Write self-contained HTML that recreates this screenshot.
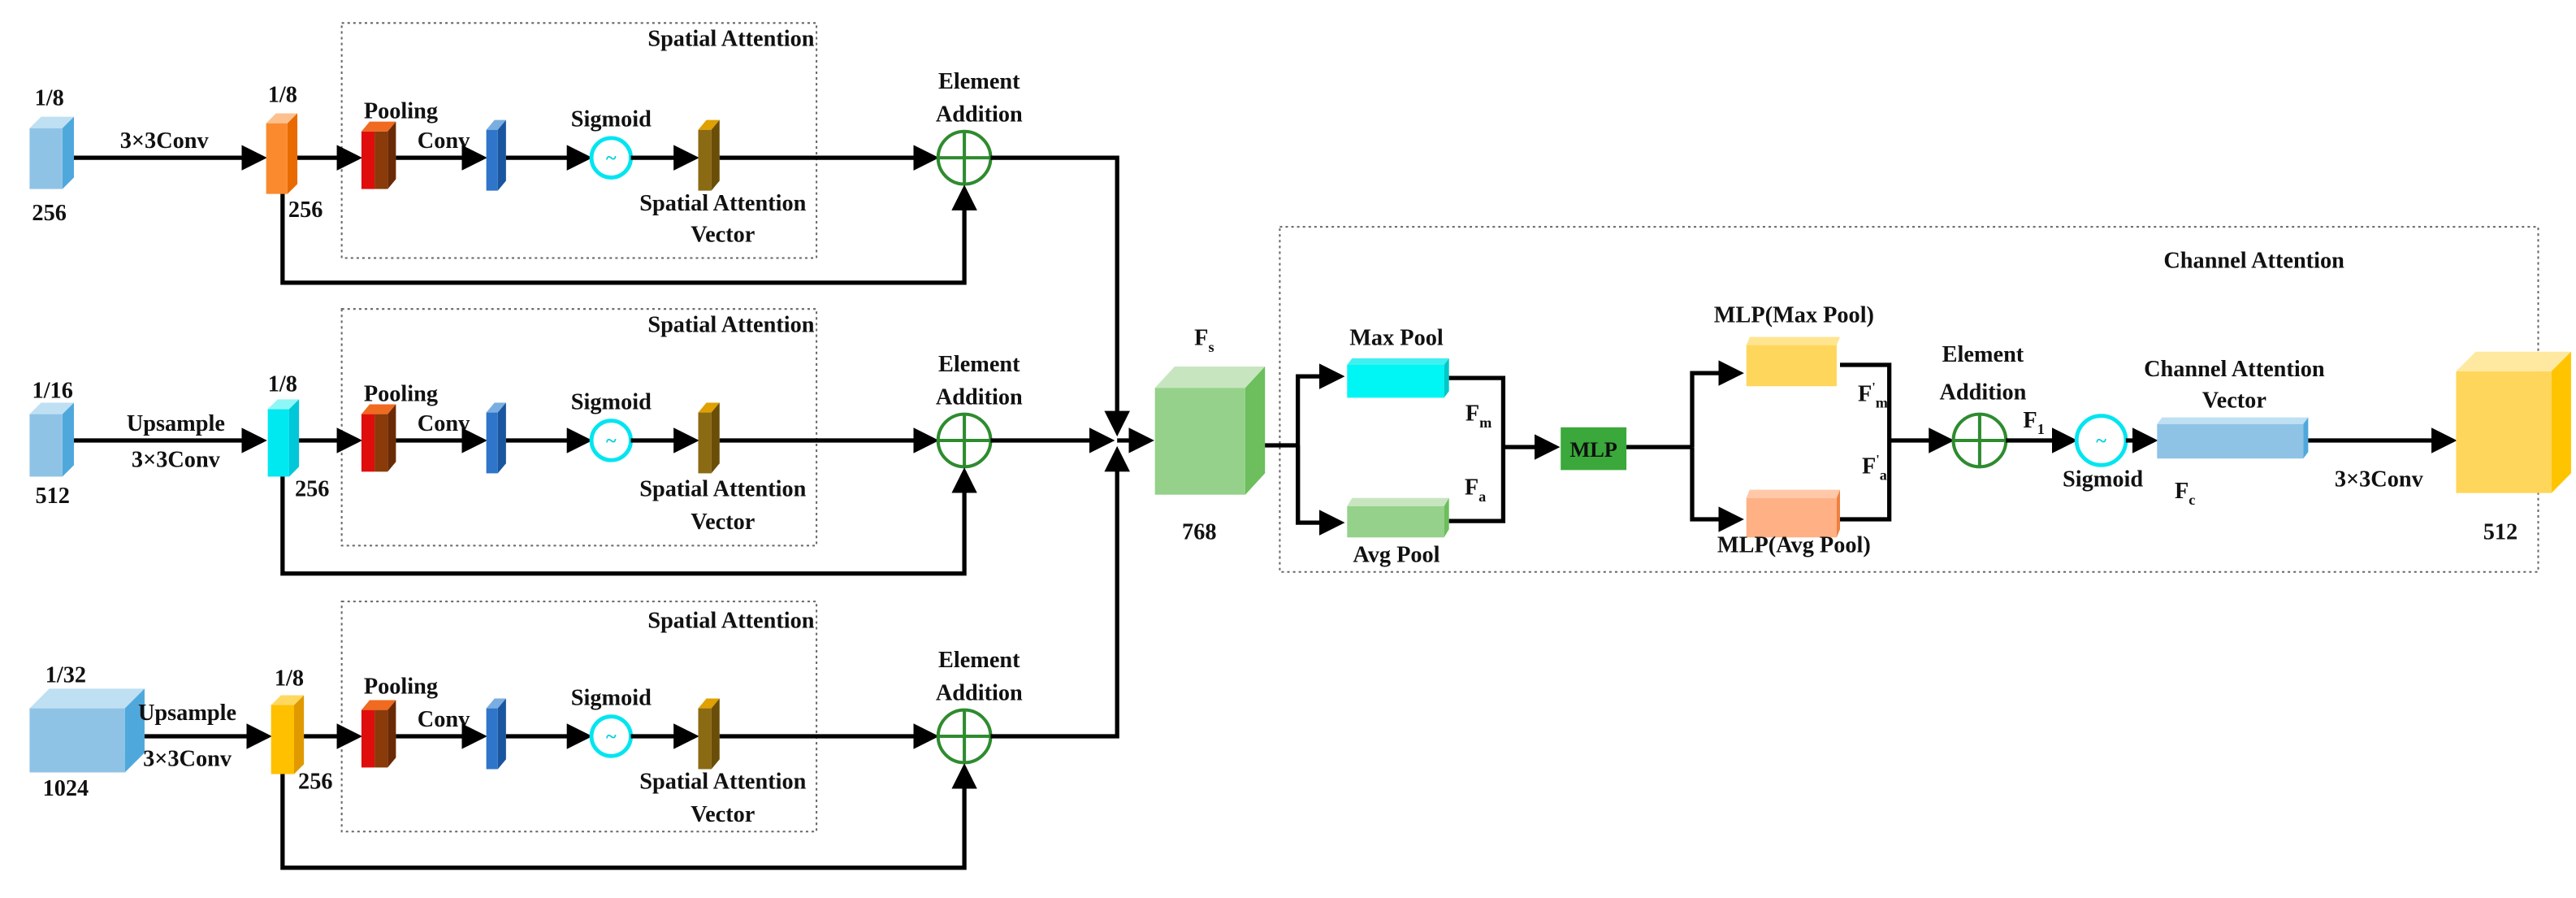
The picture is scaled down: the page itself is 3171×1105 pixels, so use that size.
<!DOCTYPE html>
<html><head><meta charset="utf-8"><style>
html,body{margin:0;padding:0;background:#fff;}
svg{display:block;}
text{font-family:"Liberation Serif",serif;font-weight:bold;font-size:14px;fill:#111;text-anchor:middle;}
.ln{stroke:#000;stroke-width:2.6;fill:none;}
.db{stroke:#666;stroke-width:1;stroke-dasharray:1.5 2;fill:none;}
</style></head><body>
<svg width="3171" height="1105" viewBox="0 0 1568 546.4" preserveAspectRatio="none">
<defs>
<marker id="a" markerWidth="6" markerHeight="6" refX="5" refY="3" orient="auto" markerUnits="strokeWidth"><path d="M0,0 L6,3 L0,6 z" fill="#000"/></marker>
</defs>

<!-- ROW 1 -->
<g>
<rect class="db" x="208" y="14" width="289" height="143"/>
<text x="445" y="28">Spatial Attention</text>
<polygon points="18,78 25,71 45,71 38,78" fill="#bfe0f3"/><polygon points="38,78 45,71 45,108 38,115" fill="#4fa8dc"/><rect x="18" y="78" width="20" height="37" fill="#8fc3e6"/>
<text x="30" y="64">1/8</text><text x="30" y="134">256</text>
<text x="100" y="90">3×3Conv</text>
<line class="ln" x1="45" y1="96" x2="160" y2="96" marker-end="url(#a)"/>
<polygon points="162,75 168,69 181,69 175,75" fill="#fcc08e"/><polygon points="175,75 181,69 181,112 175,118" fill="#e86a00"/><rect x="162" y="75" width="13" height="43" fill="#fb8a2e"/>
<text x="172" y="62">1/8</text><text x="186" y="132">256</text>
<line class="ln" x1="181" y1="96" x2="218" y2="96" marker-end="url(#a)"/>
<polygon points="220,80 225,74 241,74 236,80" fill="#f06a20"/><rect x="220" y="80" width="8" height="35" fill="#e00d0d"/><rect x="228" y="80" width="8" height="35" fill="#8b3a0a"/><polygon points="236,80 241,74 241,109 236,115" fill="#6a2a05"/>
<text x="244" y="72">Pooling</text><text x="270" y="90">Conv</text>
<line class="ln" x1="241" y1="96" x2="294" y2="96" marker-end="url(#a)"/>
<polygon points="296,79 301,73 308,73 303,79" fill="#7aaee0"/><polygon points="303,79 308,73 308,110 303,116" fill="#1a55a0"/><rect x="296" y="79" width="7" height="37" fill="#2f75c9"/>
<line class="ln" x1="308" y1="96" x2="358" y2="96" marker-end="url(#a)"/>
<circle cx="372" cy="96" r="12" fill="#fff" stroke="#00e5f0" stroke-width="2.4"/><text x="372" y="100" style="fill:#00d0e0;font-size:12px">~</text>
<text x="372" y="77">Sigmoid</text>
<line class="ln" x1="384" y1="96" x2="423" y2="96" marker-end="url(#a)"/>
<polygon points="425,79 430,73 438,73 433,79" fill="#e0a000"/><polygon points="433,79 438,73 438,110 433,116" fill="#6a4e08"/><rect x="425" y="79" width="8" height="37" fill="#8b6a14"/>
<text x="440" y="128">Spatial Attention</text><text x="440" y="147">Vector</text>
<line class="ln" x1="438" y1="96" x2="569" y2="96" marker-end="url(#a)"/>
<circle cx="587" cy="96" r="16" fill="#fff" stroke="#2e8b2e" stroke-width="2"/><line x1="571" y1="96" x2="603" y2="96" stroke="#2e8b2e" stroke-width="2"/><line x1="587" y1="80" x2="587" y2="112" stroke="#2e8b2e" stroke-width="2"/>
<text x="596" y="54">Element</text><text x="596" y="74">Addition</text>
<polyline class="ln" points="172,118 172,172 587,172 587,115" marker-end="url(#a)"/>
</g>
<polyline class="ln" points="603,96 680,96 680,263" marker-end="url(#a)"/>

<!-- ROW 2 -->
<g transform="translate(0,172)">
<rect class="db" x="208" y="16" width="289" height="144"/>
<text x="445" y="30">Spatial Attention</text>
<polygon points="18,80 25,73 45,73 38,80" fill="#bfe0f3"/><polygon points="38,80 45,73 45,111 38,118" fill="#4fa8dc"/><rect x="18" y="80" width="20" height="38" fill="#8fc3e6"/>
<text x="32" y="70">1/16</text><text x="32" y="134">512</text>
<text x="107" y="90">Upsample</text><text x="107" y="112">3×3Conv</text>
<line class="ln" x1="45" y1="96" x2="160" y2="96" marker-end="url(#a)"/>
<polygon points="163,77 169,71 182,71 176,77" fill="#8ff6f8"/><polygon points="176,77 182,71 182,112 176,118" fill="#00c8d8"/><rect x="163" y="77" width="13" height="41" fill="#00e8f0"/>
<text x="172" y="66">1/8</text><text x="190" y="130">256</text>
<line class="ln" x1="182" y1="96" x2="218" y2="96" marker-end="url(#a)"/>
<polygon points="220,80 225,74 241,74 236,80" fill="#f06a20"/><rect x="220" y="80" width="8" height="35" fill="#e00d0d"/><rect x="228" y="80" width="8" height="35" fill="#8b3a0a"/><polygon points="236,80 241,74 241,109 236,115" fill="#6a2a05"/>
<text x="244" y="72">Pooling</text><text x="270" y="90">Conv</text>
<line class="ln" x1="241" y1="96" x2="294" y2="96" marker-end="url(#a)"/>
<polygon points="296,79 301,73 308,73 303,79" fill="#7aaee0"/><polygon points="303,79 308,73 308,110 303,116" fill="#1a55a0"/><rect x="296" y="79" width="7" height="37" fill="#2f75c9"/>
<line class="ln" x1="308" y1="96" x2="358" y2="96" marker-end="url(#a)"/>
<circle cx="372" cy="96" r="12" fill="#fff" stroke="#00e5f0" stroke-width="2.4"/><text x="372" y="100" style="fill:#00d0e0;font-size:12px">~</text>
<text x="372" y="77">Sigmoid</text>
<line class="ln" x1="384" y1="96" x2="423" y2="96" marker-end="url(#a)"/>
<polygon points="425,79 430,73 438,73 433,79" fill="#e0a000"/><polygon points="433,79 438,73 438,110 433,116" fill="#6a4e08"/><rect x="425" y="79" width="8" height="37" fill="#8b6a14"/>
<text x="440" y="130">Spatial Attention</text><text x="440" y="150">Vector</text>
<line class="ln" x1="438" y1="96" x2="569" y2="96" marker-end="url(#a)"/>
<circle cx="587" cy="96" r="16" fill="#fff" stroke="#2e8b2e" stroke-width="2"/><line x1="571" y1="96" x2="603" y2="96" stroke="#2e8b2e" stroke-width="2"/><line x1="587" y1="80" x2="587" y2="112" stroke="#2e8b2e" stroke-width="2"/>
<text x="596" y="54">Element</text><text x="596" y="74">Addition</text>
<polyline class="ln" points="172,118 172,177 587,177 587,115" marker-end="url(#a)"/>
<line class="ln" x1="603" y1="96" x2="676" y2="96" marker-end="url(#a)"/>
</g>

<!-- ROW 3 -->
<g transform="translate(0,352)">
<rect class="db" x="208" y="14" width="289" height="140"/>
<text x="445" y="30">Spatial Attention</text>
<polygon points="18,79 30,67 88,67 76,79" fill="#bfe0f3"/><polygon points="76,79 88,67 88,106 76,118" fill="#4fa8dc"/><rect x="18" y="79" width="58" height="39" fill="#8fc3e6"/>
<text x="40" y="63">1/32</text><text x="40" y="132">1024</text>
<text x="114" y="86">Upsample</text><text x="114" y="114">3×3Conv</text>
<line class="ln" x1="88" y1="96" x2="163" y2="96" marker-end="url(#a)"/>
<polygon points="165,77 171,71 185,71 179,77" fill="#ffd860"/><polygon points="179,77 185,71 185,113 179,119" fill="#e09a00"/><rect x="165" y="77" width="14" height="42" fill="#ffc000"/>
<text x="176" y="65">1/8</text><text x="192" y="128">256</text>
<line class="ln" x1="185" y1="96" x2="218" y2="96" marker-end="url(#a)"/>
<polygon points="220,80 225,74 241,74 236,80" fill="#f06a20"/><rect x="220" y="80" width="8" height="35" fill="#e00d0d"/><rect x="228" y="80" width="8" height="35" fill="#8b3a0a"/><polygon points="236,80 241,74 241,109 236,115" fill="#6a2a05"/>
<text x="244" y="70">Pooling</text><text x="270" y="90">Conv</text>
<line class="ln" x1="241" y1="96" x2="294" y2="96" marker-end="url(#a)"/>
<polygon points="296,79 301,73 308,73 303,79" fill="#7aaee0"/><polygon points="303,79 308,73 308,110 303,116" fill="#1a55a0"/><rect x="296" y="79" width="7" height="37" fill="#2f75c9"/>
<line class="ln" x1="308" y1="96" x2="358" y2="96" marker-end="url(#a)"/>
<circle cx="372" cy="96" r="12" fill="#fff" stroke="#00e5f0" stroke-width="2.4"/><text x="372" y="100" style="fill:#00d0e0;font-size:12px">~</text>
<text x="372" y="77">Sigmoid</text>
<line class="ln" x1="384" y1="96" x2="423" y2="96" marker-end="url(#a)"/>
<polygon points="425,79 430,73 438,73 433,79" fill="#e0a000"/><polygon points="433,79 438,73 438,110 433,116" fill="#6a4e08"/><rect x="425" y="79" width="8" height="37" fill="#8b6a14"/>
<text x="440" y="128">Spatial Attention</text><text x="440" y="148">Vector</text>
<line class="ln" x1="438" y1="96" x2="569" y2="96" marker-end="url(#a)"/>
<circle cx="587" cy="96" r="16" fill="#fff" stroke="#2e8b2e" stroke-width="2"/><line x1="571" y1="96" x2="603" y2="96" stroke="#2e8b2e" stroke-width="2"/><line x1="587" y1="80" x2="587" y2="112" stroke="#2e8b2e" stroke-width="2"/>
<text x="596" y="54">Element</text><text x="596" y="74">Addition</text>
<polyline class="ln" points="172,119 172,176 587,176 587,115" marker-end="url(#a)"/>
</g>
<polyline class="ln" points="603,448 680,448 680,274" marker-end="url(#a)"/>

<line class="ln" x1="680" y1="268" x2="700" y2="268" marker-end="url(#a)"/>

<!-- Fs cube -->
<polygon points="703,236 715,223 770,223 758,236" fill="#c7e6c0"/><polygon points="758,236 770,223 770,288 758,301" fill="#6cbf5c"/><rect x="703" y="236" width="55" height="65" fill="#95d18a"/>
<text x="733" y="210">F<tspan dy="4" style="font-size:9px">s</tspan></text>
<text x="730" y="328">768</text>

<!-- Channel attention -->
<rect class="db" x="779" y="138" width="766" height="210"/>
<text x="1372" y="163">Channel Attention</text>
<polyline class="ln" points="770,271 790,271"/>
<polyline class="ln" points="790,317 790,229 816,229" marker-end="url(#a)"/>
<polyline class="ln" points="790,271 790,318 816,318" marker-end="url(#a)"/>
<polygon points="820,222 823,218 882,218 879,222" fill="#40f0f0"/><polygon points="879,222 882,218 882,238 879,242" fill="#00c8c8"/><rect x="820" y="222" width="59" height="20" fill="#00f5f5"/>
<polygon points="820,308 823,303 882,303 879,308" fill="#c7e6c0"/><polygon points="879,308 882,303 882,322 879,327" fill="#6cbf5c"/><rect x="820" y="308" width="59" height="19" fill="#95d18a"/>
<text x="850" y="210">Max Pool</text><text x="850" y="342">Avg Pool</text>
<polyline class="ln" points="882,230 915,230 915,317 882,317"/>
<text x="900" y="256">F<tspan dy="4" style="font-size:9px">m</tspan></text>
<text x="898" y="301">F<tspan dy="4" style="font-size:9px">a</tspan></text>
<line class="ln" x1="915" y1="272" x2="947" y2="272" marker-end="url(#a)"/>
<rect x="950" y="260" width="40" height="26" fill="#3aa83a"/>
<text x="970" y="278" style="font-size:13px">MLP</text>
<polyline class="ln" points="990,272 1030,272"/>
<polyline class="ln" points="1030,272 1030,227 1059,227" marker-end="url(#a)"/>
<polyline class="ln" points="1030,272 1030,316 1059,316" marker-end="url(#a)"/>
<polygon points="1063,210 1065,205 1120,205 1118,210" fill="#ffe590"/><rect x="1063" y="210" width="55" height="25" fill="#ffd65c"/>
<polygon points="1063,303 1065,298 1120,298 1118,303" fill="#ffc8a8"/><rect x="1063" y="303" width="55" height="24" fill="#ffb085"/><polygon points="1118,303 1120,298 1120,322 1118,327" fill="#f08040"/>
<text x="1092" y="196">MLP(Max Pool)</text><text x="1092" y="336">MLP(Avg Pool)</text>
<polyline class="ln" points="1120,222 1150,222 1150,316 1120,316"/>
<text x="1140" y="244">F<tspan dy="-6" style="font-size:8px">'</tspan><tspan dy="10" style="font-size:9px">m</tspan></text>
<text x="1141" y="288">F<tspan dy="-6" style="font-size:8px">'</tspan><tspan dy="10" style="font-size:9px">a</tspan></text>
<line class="ln" x1="1150" y1="268" x2="1187" y2="268" marker-end="url(#a)"/>
<circle cx="1205" cy="268" r="16" fill="#fff" stroke="#2e8b2e" stroke-width="2"/><line x1="1189" y1="268" x2="1221" y2="268" stroke="#2e8b2e" stroke-width="2"/><line x1="1205" y1="252" x2="1205" y2="284" stroke="#2e8b2e" stroke-width="2"/>
<text x="1207" y="220">Element</text><text x="1207" y="243">Addition</text>
<text x="1238" y="260">F<tspan dy="4" style="font-size:9px">1</tspan></text>
<line class="ln" x1="1221" y1="268" x2="1262" y2="268" marker-end="url(#a)"/>
<circle cx="1279" cy="268" r="15" fill="#fff" stroke="#00e5f0" stroke-width="2.4"/><text x="1279" y="272" style="fill:#00d0e0;font-size:12px">~</text>
<text x="1280" y="296">Sigmoid</text>
<line class="ln" x1="1294" y1="268" x2="1311" y2="268" marker-end="url(#a)"/>
<polygon points="1313,258 1316,254 1405,254 1402,258" fill="#bfe0f3"/><rect x="1313" y="258" width="89" height="21" fill="#8fc3e6"/><polygon points="1402,258 1405,254 1405,275 1402,279" fill="#4fa8dc"/>
<text x="1360" y="229">Channel Attention</text><text x="1360" y="248">Vector</text>
<text x="1330" y="303">F<tspan dy="4" style="font-size:9px">c</tspan></text>
<line class="ln" x1="1405" y1="268" x2="1493" y2="268" marker-end="url(#a)"/>
<text x="1448" y="296">3×3Conv</text>
<polygon points="1495,226 1507,214 1565,214 1553,226" fill="#ffe9a0"/><polygon points="1553,226 1565,214 1565,288 1553,300" fill="#ffc400"/><rect x="1495" y="226" width="58" height="74" fill="#ffd65c"/>
<text x="1522" y="328">512</text>
</svg>
</body></html>
